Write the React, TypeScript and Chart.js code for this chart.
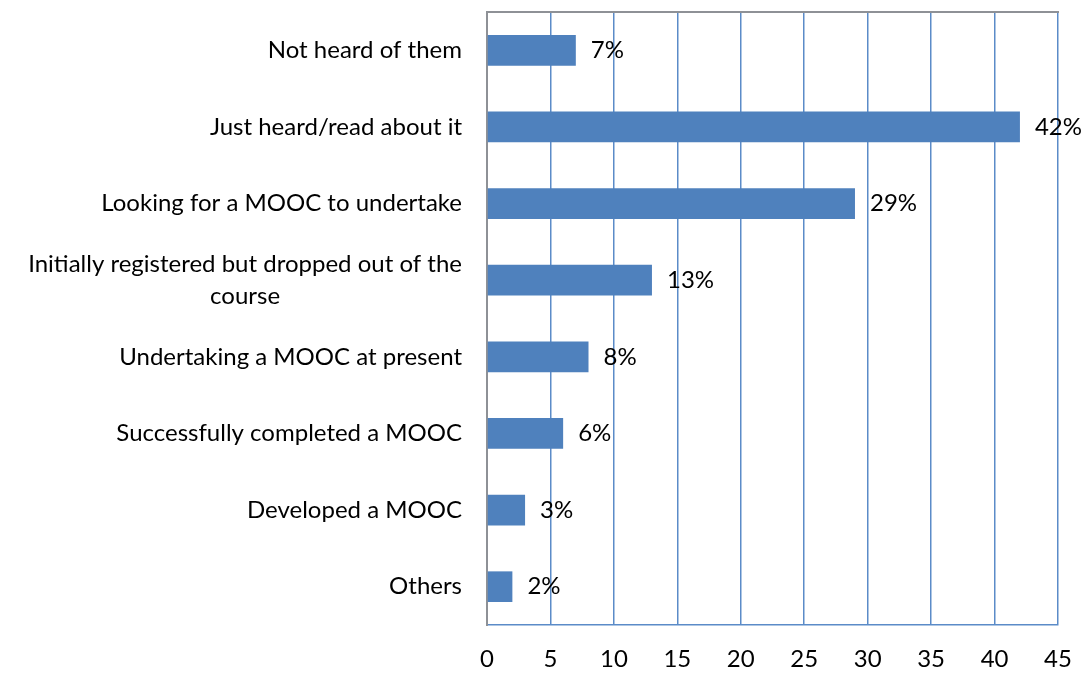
import React, { useEffect, useRef } from "react";
import { Chart, registerables } from "chart.js";

Chart.register(...registerables);

const categories: (string | string[])[] = [
  "Not heard of them",
  "Just heard/read about it",
  "Looking for a MOOC to undertake",
  ["Initially registered but dropped out of the", "course"],
  "Undertaking a MOOC at present",
  "Successfully completed a MOOC",
  "Developed a MOOC",
  "Others",
];
const values: number[] = [7, 42, 29, 13, 8, 6, 3, 2];
const xTicks: number[] = [0, 5, 10, 15, 20, 25, 30, 35, 40, 45];

const FONT = "Lato, 'Noto Sans', sans-serif";
const FSIZE = 24;

const labelsPlugin = {
  id: "customLabels",
  afterDraw(chart: any) {
    const ctx = chart.ctx;
    const area = chart.chartArea;
    const yScale = chart.scales.y;
    ctx.save();
    ctx.strokeStyle = "#8E9196";
    ctx.lineWidth = 2;
    ctx.beginPath();
    ctx.moveTo(area.left - 1, area.top);
    ctx.lineTo(area.right + 1, area.top);
    ctx.stroke();
    ctx.font = `${FSIZE}px ${FONT}`;
    ctx.fillStyle = "#000";
    ctx.textBaseline = "middle";
    const right = area.left - 25;
    categories.forEach((c, i) => {
      const y = yScale.getPixelForValue(i);
      if (Array.isArray(c)) {
        const lh = 32;
        const widths = c.map((l) => ctx.measureText(l).width);
        const maxW = Math.max(...widths);
        const cx = right - maxW / 2;
        ctx.textAlign = "center";
        c.forEach((l, j) => {
          ctx.fillText(l, cx, y + (j - (c.length - 1) / 2) * lh);
        });
      } else {
        ctx.textAlign = "right";
        ctx.fillText(c, right, y);
      }
    });
    const meta = chart.getDatasetMeta(0);
    ctx.textAlign = "left";
    meta.data.forEach((bar: any, i: number) => {
      ctx.fillText(`${values[i]}%`, bar.x + 15, bar.y);
    });
    ctx.restore();
  },
};

export default function App() {
  const ref = useRef<HTMLCanvasElement>(null);
  useEffect(() => {
    document.body.style.margin = "0";
    const chart = new Chart(ref.current!, {
      type: "bar",
      data: {
        labels: categories.map((c) => (Array.isArray(c) ? c.join(" ") : c)),
        datasets: [
          {
            data: values,
            backgroundColor: "#4F81BD",
            borderWidth: 0,
            barPercentage: 0.8,
            categoryPercentage: 0.5,
          },
        ],
      },
      options: {
        indexAxis: "y",
        animation: false,
        responsive: false,
        layout: { padding: { top: 12, right: 27, left: 0, bottom: 0 } },
        plugins: { legend: { display: false }, tooltip: { enabled: false } },
        scales: {
          x: {
            min: 0,
            max: 45,
            afterBuildTicks: (scale: any) => {
              scale.ticks = xTicks.map((v) => ({ value: v }));
            },
            afterFit: (scale: any) => {
              scale.height = 48;
              scale.paddingLeft = 0;
              scale.paddingRight = 0;
            },
            grid: {
              color: "#5B8BC8",
              lineWidth: 1.5,
              drawTicks: false,
            },
            border: { display: true, color: "#5B8BC8", width: 1.5 },
            ticks: {
              padding: 20,
              color: "#000",
              font: { family: FONT, size: FSIZE },
            },
          },
          y: {
            grid: { display: false },
            border: { display: true, color: "#8E9196", width: 2 },
            ticks: { display: false },
            afterFit: (scale: any) => {
              scale.width = 487;
              scale.paddingTop = 0;
              scale.paddingBottom = 0;
            },
          },
        },
      },
      plugins: [labelsPlugin],
    });
    return () => chart.destroy();
  }, []);
  return <canvas ref={ref} width={1085} height={673} style={{ display: "block" }} />;
}
